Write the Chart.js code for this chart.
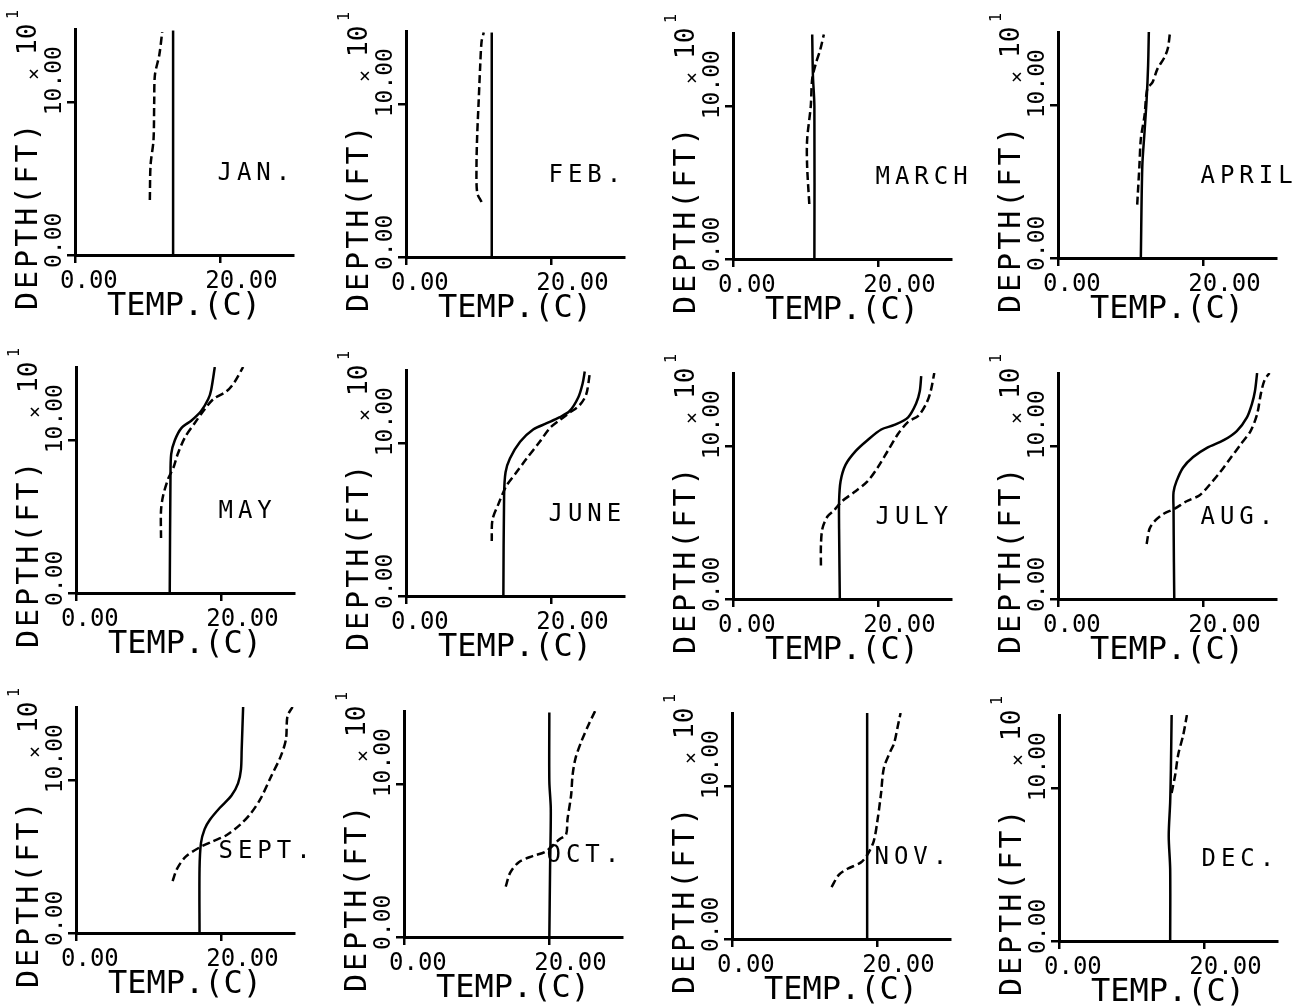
<!DOCTYPE html>
<html>
<head>
<meta charset="utf-8">
<script src="https://cdn.jsdelivr.net/npm/chart.js@4.4.1/dist/chart.umd.min.js"></script>
<style>
  body { margin: 0; background: #fff; }
  #sheet { position: relative; width: 1305px; height: 1008px; overflow: hidden; background: #fff; }
  #sheet canvas { position: absolute; }
</style>
</head>
<body>
<div id="sheet"></div>
<script>
// monthly temperature profiles: solid and dashed curve, [temp C, depth x10 ft]
const MONTHS = ['JAN.', 'FEB.', 'MARCH', 'APRIL', 'MAY', 'JUNE', 'JULY', 'AUG.', 'SEPT.', 'OCT.', 'NOV.', 'DEC.'];
const TEMP_TICKS = [0, 20];
const DEPTH_TICKS = [0, 10];

const JAN_SOLID = [[13.5, 0], [13.5, 14.7]];
const JAN_DASHED = [[10.3, 3.6], [10.4, 5.9], [10.8, 7.5], [10.9, 10.0], [11.0, 11.8], [11.6, 13.1], [12.0, 14.6]];

const FEB_SOLID = [[11.8, 0], [11.8, 14.7]];
const FEB_DASHED = [[10.4, 3.6], [9.8, 4.2], [9.7, 5.9], [9.8, 8.0], [10.0, 10.2], [10.2, 12.4], [10.4, 14.1], [10.7, 14.7]];

const MAR_SOLID = [[11.2, 0], [11.2, 10.0], [11.0, 12.0], [10.9, 14.7]];
const MAR_DASHED = [[10.5, 3.6], [10.2, 6.1], [10.2, 7.8], [10.7, 10.0], [10.9, 11.8], [11.4, 12.8], [12.0, 13.7], [12.5, 14.7]];

const APR_SOLID = [[11.4, 0], [11.6, 6.0], [11.9, 8.2], [12.2, 10.4], [12.4, 12.6], [12.5, 14.8]];
const APR_DASHED = [[10.9, 3.5], [11.2, 6.0], [11.4, 7.8], [11.9, 9.3], [12.3, 11.1], [13.0, 11.5], [13.7, 12.4], [14.6, 13.1], [15.1, 13.7], [15.4, 14.7]];

const MAY_SOLID = [[12.9, 0], [13.0, 7.5], [13.1, 9.1], [13.6, 10.0], [14.5, 10.8], [15.9, 11.3], [17.2, 11.9], [18.2, 12.7], [18.6, 13.3], [19.1, 14.8]];
const MAY_DASHED = [[11.7, 3.6], [11.7, 5.4], [12.0, 6.4], [12.7, 7.5], [13.4, 8.2], [14.0, 9.1], [15.0, 10.2], [16.3, 11.1], [17.5, 11.9], [18.9, 12.7], [20.7, 13.2], [21.8, 13.8], [23.0, 14.8]];

const JUN_SOLID = [[13.4, 0], [13.5, 6.6], [13.7, 8.1], [14.3, 9.0], [15.7, 10.1], [17.5, 10.9], [19.3, 11.3], [21.1, 11.7], [22.5, 12.1], [23.7, 13.0], [24.3, 13.9], [24.6, 14.7]];
const JUN_DASHED = [[11.8, 3.6], [11.9, 5.0], [12.7, 6.0], [13.8, 7.2], [15.2, 8.1], [16.6, 9.0], [18.4, 10.1], [19.8, 11.0], [21.1, 11.5], [22.5, 12.0], [23.9, 12.5], [24.8, 13.2], [25.3, 14.6]];

const JUL_SOLID = [[14.7, 0], [14.6, 4.6], [14.6, 6.4], [14.8, 7.7], [15.5, 8.8], [16.9, 9.7], [18.5, 10.4], [20.4, 11.1], [22.2, 11.4], [24.1, 11.9], [25.2, 12.8], [25.7, 13.6], [25.9, 14.6]];
const JUL_DASHED = [[12.1, 2.2], [12.1, 3.5], [12.3, 4.6], [13.0, 5.4], [13.9, 5.8], [15.0, 6.4], [16.7, 7.0], [18.5, 7.7], [19.9, 8.6], [21.3, 9.7], [22.7, 10.8], [24.1, 11.6], [25.5, 12.0], [26.6, 12.8], [27.2, 13.6], [27.7, 14.8]];

const AUG_SOLID = [[16.0, 0], [15.95, 2.4], [15.9, 5.9], [15.9, 7.0], [16.3, 7.7], [17.2, 8.6], [18.6, 9.3], [20.5, 9.9], [22.8, 10.4], [24.6, 11.0], [26.0, 11.9], [26.7, 12.8], [27.1, 13.6], [27.4, 14.8]];
const AUG_DASHED = [[12.2, 3.6], [12.6, 4.6], [13.3, 5.1], [14.6, 5.6], [16.0, 5.9], [17.7, 6.4], [19.5, 6.8], [20.9, 7.5], [22.3, 8.3], [23.7, 9.2], [25.1, 10.1], [26.5, 11.0], [27.4, 12.1], [27.9, 13.4], [28.4, 14.3], [29.1, 14.8]];

const SEP_SOLID = [[17.0, 0], [17.0, 4.2], [17.2, 5.9], [17.7, 6.8], [18.4, 7.4], [19.8, 8.2], [21.4, 9.0], [22.3, 9.8], [22.7, 10.7], [22.8, 12.0], [23.0, 14.8]];
const SEP_DASHED = [[13.3, 3.4], [13.9, 4.2], [15.1, 5.0], [17.0, 5.6], [18.8, 6.0], [20.7, 6.4], [22.6, 7.1], [24.0, 7.8], [25.4, 8.8], [26.8, 10.2], [28.2, 11.6], [28.9, 12.7], [29.1, 14.2], [29.8, 14.8]];

const OCT_SOLID = [[20.0, 0], [20.1, 4.4], [20.2, 8.4], [20.0, 10.2], [20.0, 14.7]];
const OCT_DASHED = [[14.0, 3.3], [14.6, 4.2], [15.8, 4.9], [17.7, 5.3], [19.5, 5.6], [21.4, 6.4], [22.3, 6.7], [22.5, 7.7], [23.0, 9.3], [23.2, 10.6], [23.6, 11.7], [24.4, 12.8], [25.4, 13.9], [26.3, 14.8]];

const NOV_SOLID = [[18.6, 0], [18.6, 14.8]];
const NOV_DASHED = [[13.7, 3.4], [14.7, 4.2], [15.9, 4.6], [17.7, 5.0], [18.6, 5.5], [19.5, 6.4], [20.0, 7.7], [20.5, 9.5], [20.9, 11.2], [21.8, 12.3], [22.3, 12.8], [22.8, 13.9], [23.2, 14.8]];

const DEC_SOLID = [[15.3, 0], [15.3, 4.7], [15.1, 6.9], [15.3, 9.1], [15.4, 11.3], [15.5, 14.8]];
const DEC_DASHED = [[15.5, 9.7], [16.0, 10.9], [16.4, 12.2], [17.1, 13.5], [17.6, 14.8]];

const SOLID = [JAN_SOLID, FEB_SOLID, MAR_SOLID, APR_SOLID, MAY_SOLID, JUN_SOLID,
               JUL_SOLID, AUG_SOLID, SEP_SOLID, OCT_SOLID, NOV_SOLID, DEC_SOLID];
const DASHED = [JAN_DASHED, FEB_DASHED, MAR_DASHED, APR_DASHED, MAY_DASHED, JUN_DASHED,
                JUL_DASHED, AUG_DASHED, SEP_DASHED, OCT_DASHED, NOV_DASHED, DEC_DASHED];

// page position of every panel's axis origin (the scan is a bit skewed)
const ORIGINS = [
  [75, 255], [406, 257], [733, 259], [1058, 258],
  [76, 593], [406, 596], [733, 599], [1058, 599],
  [76, 933], [404, 937], [732, 939], [1059, 941]
];

const MONO = "'DejaVu Sans Mono', monospace";
const CANVAS_W = 322, CANVAS_H = 336;
const AREA_LEFT = 75, AREA_BOTTOM = 256;

function rotText(ctx, text, x, y) {
  ctx.save();
  ctx.translate(x, y);
  ctx.rotate(-Math.PI / 2);
  ctx.fillText(text, 0, 0);
  ctx.restore();
}

// rotated y labels, y title and the month name
const panelText = {
  id: 'panelText',
  afterDraw(chart, args, opts) {
    const ctx = chart.ctx;
    const area = chart.chartArea;
    const xs = chart.scales.x;
    const ys = chart.scales.y;
    ctx.save();
    ctx.fillStyle = '#000';
    ctx.textAlign = 'left';
    ctx.textBaseline = 'middle';

    ctx.font = '23px ' + MONO;
    ys.ticks.forEach(t => {
      rotText(ctx, t.value.toFixed(2), area.left - 20, ys.getPixelForValue(t.value) + 13);
    });

    ctx.font = '30px ' + MONO;
    ctx.letterSpacing = '3px';
    rotText(ctx, 'DEPTH(FT)', area.left - 46, area.bottom + 55);
    ctx.letterSpacing = '0px';
    ctx.font = '26px ' + MONO;
    rotText(ctx, '10', area.left - 46, area.bottom - 200);
    ctx.font = '15px ' + MONO;
    rotText(ctx, '1', area.left - 61, area.bottom - 236);
    ctx.font = '20px ' + MONO;
    ctx.textAlign = 'center';
    rotText(ctx, '×', area.left - 40, area.bottom - 181);

    ctx.textAlign = 'left';
    ctx.textBaseline = 'alphabetic';
    ctx.font = '24px ' + MONO;
    ctx.letterSpacing = '5px';
    ctx.fillText(opts.month, xs.getPixelForValue(19.6), ys.getPixelForValue(4.9));
    ctx.restore();
  }
};

const sheet = document.getElementById('sheet');

function toPoints(list) {
  return list.map(p => ({ x: p[0], y: p[1] }));
}

function makePanel(i) {
  const [ox, oy] = ORIGINS[i];
  const canvas = document.createElement('canvas');
  canvas.width = CANVAS_W;
  canvas.height = CANVAS_H;
  canvas.style.left = (ox - AREA_LEFT) + 'px';
  canvas.style.top = (oy - AREA_BOTTOM) + 'px';
  sheet.appendChild(canvas);

  const axisGrid = { drawOnChartArea: false, drawTicks: true, tickLength: 8, color: '#000', lineWidth: 2.5 };
  const axisBorder = { display: true, color: '#000', width: 3 };

  new Chart(canvas.getContext('2d'), {
    type: 'scatter',
    data: {
      datasets: [
        {
          label: 'solid',
          data: toPoints(SOLID[i]),
          showLine: true,
          borderColor: '#000',
          borderWidth: 2.5,
          pointRadius: 0,
          tension: 0.3
        },
        {
          label: 'dashed',
          data: toPoints(DASHED[i]),
          showLine: true,
          borderColor: '#000',
          borderWidth: 2.5,
          borderDash: [8, 4],
          pointRadius: 0,
          tension: 0.3
        }
      ]
    },
    options: {
      responsive: false,
      animation: false,
      events: [],
      layout: { padding: { left: 35, right: 29, top: 30, bottom: 7 } },
      plugins: {
        legend: { display: false },
        tooltip: { enabled: false },
        panelText: { month: MONTHS[i] }
      },
      scales: {
        x: {
          type: 'linear',
          position: 'bottom',
          min: 0,
          max: 30,
          afterBuildTicks: s => { s.ticks = TEMP_TICKS.map(v => ({ value: v })); },
          afterFit: s => { s.height = 73; },
          grid: axisGrid,
          border: axisBorder,
          ticks: {
            color: '#000',
            font: { family: MONO, size: 24 },
            align: 'start',
            labelOffset: -15,
            padding: 4,
            autoSkip: false,
            maxRotation: 0,
            callback: v => Number(v).toFixed(2)
          },
          title: {
            display: true,
            text: 'TEMP.(C)',
            color: '#000',
            font: { family: MONO, size: 32 },
            padding: { top: 0, bottom: 2 }
          }
        },
        y: {
          type: 'linear',
          position: 'left',
          min: 0,
          max: 14.8,
          afterBuildTicks: s => { s.ticks = DEPTH_TICKS.map(v => ({ value: v })); },
          afterFit: s => { s.width = 40; },
          grid: axisGrid,
          border: axisBorder,
          ticks: { display: false }
        }
      }
    },
    plugins: [panelText]
  });
}

for (let i = 0; i < MONTHS.length; i++) makePanel(i);
</script>
</body>
</html>
